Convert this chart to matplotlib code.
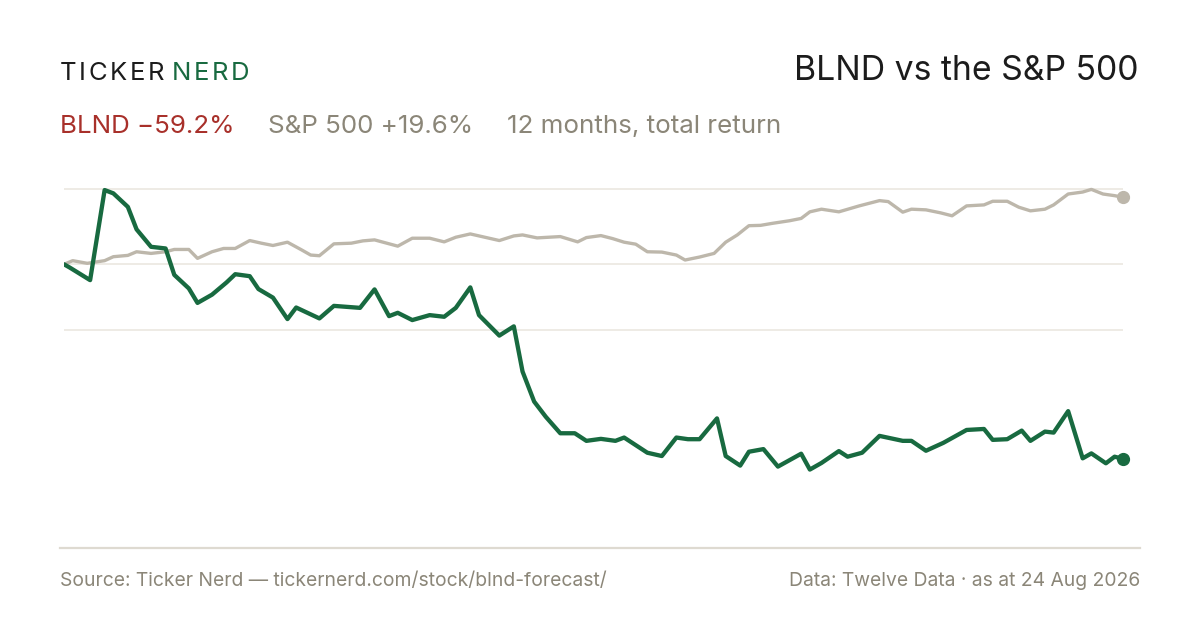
import matplotlib
matplotlib.use("Agg")
import matplotlib.pyplot as plt
from matplotlib.lines import Line2D

# ---- data (days since start, total return %) ----
sp_days = [0, 3, 8, 14, 17, 22, 25, 30, 35, 38, 43, 46, 51, 55, 59, 64, 68, 72, 77, 82,
           85, 88, 93, 99, 103, 107, 115, 120, 126, 131, 135, 140, 145, 150, 155, 158, 163,
           171, 177, 180, 185, 189, 193, 197, 201, 206, 211, 214, 219, 224, 228, 232, 236,
           240, 244, 250, 254, 257, 261, 267, 274, 281, 284, 289, 292, 297, 302, 306, 311,
           317, 320, 325, 329, 333, 338, 341, 346, 351, 354, 358, 362, 365]
sp_ret = [0.0, 1.1, 0.3, 1.1, 2.3, 2.7, 3.8, 3.3, 3.8, 4.5, 4.5, 1.8, 3.8, 4.8, 4.8, 7.2,
          6.4, 5.7, 6.7, 4.3, 2.8, 2.6, 6.2, 6.4, 7.1, 7.4, 5.5, 7.9, 7.9, 6.8, 8.2, 9.2,
          8.2, 7.2, 8.6, 8.9, 8.0, 8.4, 6.8, 8.1, 8.7, 7.8, 6.7, 6.1, 3.8, 3.7, 2.8, 1.3,
          2.2, 3.3, 6.7, 8.9, 11.7, 11.8, 12.4, 13.2, 13.9, 15.9, 16.7, 15.9, 17.7, 19.3,
          19.0, 15.8, 16.7, 16.5, 15.6, 14.7, 17.7, 18.0, 19.1, 19.1, 17.3, 16.2, 16.7,
          18.0, 21.3, 21.9, 22.7, 21.3, 20.8, 20.3]

blnd_days = [0, 2, 9, 14, 17, 22, 25, 30, 35, 38, 43, 46, 51, 56, 59, 64, 67, 72, 77, 80,
             88, 93, 102, 107, 112, 115, 120, 126, 131, 135, 140, 143, 150, 155, 158, 162,
             166, 171, 176, 180, 185, 190, 193, 197, 201, 206, 211, 215, 219, 225, 228,
             233, 236, 241, 246, 254, 257, 261, 267, 270, 275, 281, 289, 292, 297, 303,
             311, 317, 320, 325, 330, 333, 338, 341, 346, 351, 354, 359, 362, 365]
blnd_ret = [0.0, -1.0, -4.8, 22.5, 21.5, 17.4, 10.6, 5.3, 4.8, -3.2, -7.3, -11.7, -9.2,
            -5.5, -3.0, -3.6, -7.5, -10.1, -16.6, -13.1, -16.4, -12.6, -13.2, -7.6, -15.7,
            -14.7, -16.9, -15.4, -15.9, -13.2, -7.0, -15.4, -21.6, -18.8, -32.5, -41.6,
            -46.2, -51.2, -51.2, -53.5, -52.9, -53.5, -52.5, -54.8, -57.1, -58.1, -52.5,
            -53.0, -53.0, -46.7, -58.1, -61.0, -56.8, -56.0, -61.3, -57.4, -62.2, -60.2,
            -56.6, -58.3, -57.1, -52.0, -53.5, -53.5, -56.5, -54.1, -50.2, -49.9, -53.2,
            -53.0, -50.4, -53.5, -50.7, -51.0, -44.5, -58.8, -57.3, -60.3, -58.3, -59.0]

title = "BLND vs the S&P 500"
brand = ("TICKER", "NERD")
sub_blnd = "BLND \u221259.2%"
sub_sp = "S&P 500 +19.6%"
sub_note = "12 months, total return"
foot_left = "Source: Ticker Nerd \u2014 tickernerd.com/stock/blnd-forecast/"
foot_right = "Data: Twelve Data \u00b7 as at 24 Aug 2026"

GREEN = "#186a40"
GRAY_LINE = "#bdb7ab"
RED = "#a8302a"
MUTED = "#8b8678"
DARK = "#1c1c1c"
GRID = "#e9e5de"

plt.rcParams["font.family"] = ["Inter", "DejaVu Sans"]

W, H = 1200, 630
fig = plt.figure(figsize=(12, 6.3), dpi=100)
fig.patch.set_facecolor("white")


def fx(x):
    return x / W


def fy(y):
    return 1 - y / H


ax_left, ax_right, ax_top, ax_bot = 64, 1123.3, 180, 548
zero_px, px_per = 264.3, 3.3
ax = fig.add_axes([fx(ax_left), fy(ax_bot), (ax_right - ax_left) / W, (ax_bot - ax_top) / H])
ax.set_xlim(0, 365)
ax.set_ylim(-(ax_bot - zero_px) / px_per, (zero_px - ax_top) / px_per)
ax.axis("off")

top_grid = max(max(sp_ret), max(blnd_ret))
for v in [top_grid, 0, -20]:
    ax.axhline(v, color=GRID, lw=1.1, zorder=0)

ax.plot(sp_days, sp_ret, color=GRAY_LINE, lw=2.4, zorder=2, solid_capstyle="round")
ax.plot(blnd_days, blnd_ret, color=GREEN, lw=3.1, zorder=3, solid_capstyle="round")
ax.plot(sp_days[-1], sp_ret[-1], "o", ms=8.5, color=GRAY_LINE, zorder=4, clip_on=False)
ax.plot(blnd_days[-1], blnd_ret[-1], "o", ms=8.5, color=GREEN, zorder=5, clip_on=False)

fig.add_artist(Line2D([fx(60), fx(1140)], [fy(548), fy(548)], transform=fig.transFigure,
                      color="#dedad1", lw=1.6))

# brand with letter spacing
renderer = fig.canvas.get_renderer()
x = 60.0
spacing = 2.6
for wi, word in enumerate(brand):
    col = DARK if wi == 0 else GREEN
    for ch in word:
        t = fig.text(fx(x), fy(80), ch, fontsize=18.5, color=col, va="baseline", ha="left")
        w = t.get_window_extent(renderer).width
        x += w + spacing
    x += 5

fig.text(fx(1138), fy(80), title, fontsize=24.3, color=DARK, ha="right", va="baseline")

fig.text(fx(60), fy(133), sub_blnd, fontsize=18.7, color=RED, ha="left", va="baseline")
fig.text(fx(268), fy(133), sub_sp, fontsize=18.7, color=MUTED, ha="left", va="baseline")
fig.text(fx(507), fy(133), sub_note, fontsize=18.7, color=MUTED, ha="left", va="baseline")

fig.text(fx(60), fy(586), foot_left, fontsize=13.9, color=MUTED, ha="left", va="baseline")
fig.text(fx(1140), fy(586), foot_right, fontsize=13.9, color=MUTED, ha="right", va="baseline")

fig.savefig("out.png", dpi=100, facecolor="white")
